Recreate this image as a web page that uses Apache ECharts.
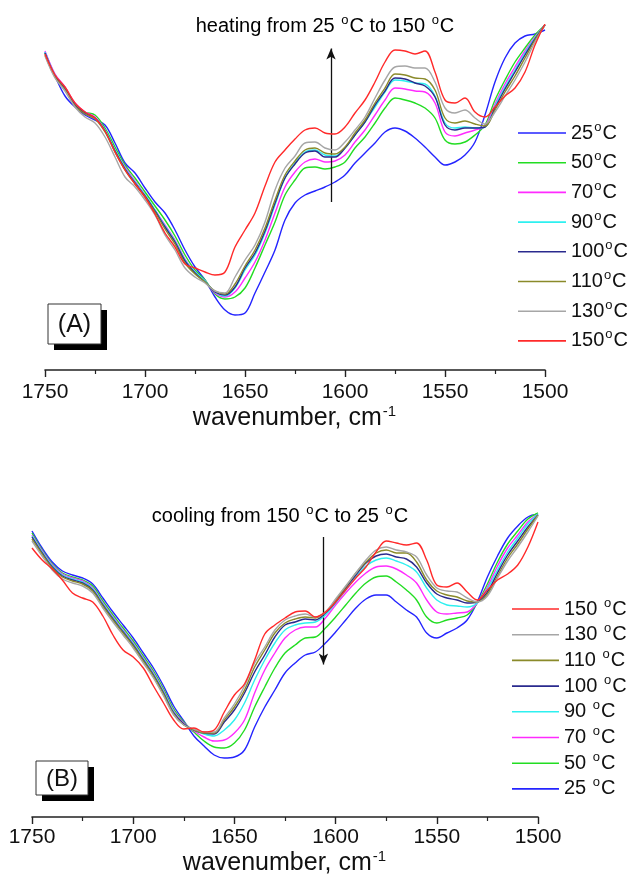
<!DOCTYPE html>
<html>
<head>
<meta charset="utf-8">
<title>FTIR amide I / II band vs temperature</title>
<script src="https://cdn.jsdelivr.net/npm/echarts@6/dist/echarts.min.js"></script>
<style>
  html, body { margin: 0; padding: 0; background: #fff; }
  #chart { width: 631px; height: 881px; }
</style>
</head>
<body>
<div id="chart"></div>
<script>
// Wavenumber grid (cm-1), shared by every spectrum
const wavenumbers = [1750, 1745, 1740, 1735, 1730, 1725, 1720, 1715, 1710, 1705,
  1700, 1695, 1690, 1685, 1680, 1675, 1670, 1665, 1660, 1655,
  1650, 1645, 1640, 1635, 1630, 1625, 1620, 1615, 1610, 1605,
  1600, 1595, 1590, 1585, 1580, 1575, 1570, 1565, 1560, 1555,
  1550, 1545, 1540, 1535, 1530, 1525, 1520, 1515, 1510, 1505, 1500];

const temperatures = [25, 50, 70, 90, 100, 110, 130, 150];
const lineColors = ['#2424ff', '#22dd22', '#ff2bff', '#2ef0f0', '#2a2a8e', '#8a8a2a', '#a6a6a6', '#ff2a2a'];
const xTicks = [1500, 1550, 1600, 1650, 1700, 1750];

// (A) heating run, absorbance in arbitrary units (x1000)
const heat25  = [318,294,274,263,255,250,245,227,207,197,182,168,157,140,120,103,90,73,60,55,57,77,98,120,150,167,175,179,183,188,195,207,217,227,238,242,239,232,223,213,205,208,215,228,255,288,312,327,334,336,340];
const heat50  = [317,295,282,266,258,255,242,223,205,192,178,164,150,134,115,100,90,76,71,73,82,102,125,148,175,190,202,203,201,203,208,222,233,247,262,272,270,267,262,252,230,226,228,235,245,270,290,308,322,335,345];
const heat70  = [319,296,283,267,258,253,240,220,203,189,175,160,145,130,111,98,89,77,73,78,92,108,130,157,183,198,208,211,208,209,215,228,240,255,270,282,281,279,278,267,238,234,237,240,244,266,286,303,319,333,345];
const heat90  = [318,295,282,266,257,252,240,220,202,188,175,160,144,129,110,98,89,78,74,82,100,115,137,165,192,207,218,220,215,214,222,235,248,263,278,290,289,287,286,274,247,242,243,242,243,264,283,300,317,332,345];
const heat100 = [317,294,281,265,257,252,239,219,201,187,174,159,143,128,109,97,88,78,75,83,102,117,139,167,192,206,217,219,213,213,222,235,248,265,279,292,291,287,284,273,245,240,242,242,243,262,281,298,315,331,345];
const heat110 = [315,293,280,264,256,251,238,218,200,186,173,158,141,126,107,96,88,79,76,86,104,120,142,170,195,209,220,222,217,216,223,237,250,267,282,296,295,292,291,280,252,247,249,246,244,260,278,294,312,330,345];
const heat130 = [314,292,279,263,253,247,233,213,193,183,170,155,135,120,102,93,87,79,77,93,110,125,148,180,202,214,227,228,222,220,228,240,253,272,290,303,304,302,302,288,262,257,260,252,246,258,274,290,308,328,345];
const heat150 = [316,295,283,267,258,252,239,218,200,186,173,156,137,123,106,102,98,95,98,123,140,157,184,208,220,231,240,242,237,236,243,257,270,288,308,320,319,316,319,298,270,267,272,258,253,263,274,282,298,325,346];

// (B) cooling run, absorbance in arbitrary units (x1000)
const cool25  = [286,269,255,246,242,239,233,219,205,192,179,164,149,131,111,96,81,71,62,59,60,67,90,110,127,144,154,162,165,174,185,197,209,218,222,222,215,207,200,184,179,184,189,197,215,240,261,279,291,300,303];
const cool50  = [284,267,253,244,240,237,231,216,202,189,176,161,146,128,108,95,85,76,70,69,74,87,110,130,149,164,172,179,180,189,200,212,224,234,240,241,235,227,217,200,194,197,199,202,214,233,255,273,286,298,304];
const cool70  = [282,266,252,243,239,236,229,214,200,187,174,159,144,126,106,94,86,80,76,77,84,97,124,147,164,179,187,190,190,199,212,224,235,244,250,251,248,242,234,217,205,203,204,205,214,230,251,269,282,295,303];
const cool90  = [281,265,251,242,238,235,228,213,199,186,173,158,143,125,105,93,87,83,81,87,97,114,137,157,174,187,192,194,195,202,214,227,240,251,257,259,256,252,245,229,217,212,211,210,214,228,247,265,279,293,303];
const cool100 = [280,264,250,241,237,234,227,212,198,185,172,157,142,124,104,93,87,84,83,95,107,124,145,162,180,192,195,198,197,204,215,229,242,254,261,263,260,258,250,234,223,219,217,214,215,225,244,262,276,290,302];
const cool110 = [278,263,249,240,236,233,226,211,197,184,171,156,141,123,103,92,87,84,84,97,110,127,150,167,184,194,198,200,199,205,217,230,244,255,264,267,264,264,255,237,226,222,220,216,215,223,241,259,273,288,302];
const cool130 = [276,261,247,238,234,231,224,209,195,182,169,154,139,121,102,92,88,85,85,99,113,131,154,170,187,197,201,203,200,205,218,231,244,257,267,270,267,265,260,242,229,226,225,219,215,221,239,256,270,285,301];
const cool150 = [269,257,248,237,224,219,215,201,182,167,160,149,131,114,97,88,89,85,87,105,122,133,157,183,192,199,205,206,200,205,215,227,239,250,265,276,274,272,274,257,232,230,234,225,217,227,237,243,252,270,295];

const heating = [heat25, heat50, heat70, heat90, heat100, heat110, heat130, heat150];
const cooling = [cool25, cool50, cool70, cool90, cool100, cool110, cool130, cool150];

const FONT = '"Liberation Sans", Arial, Helvetica, sans-serif';
const INK = '#111';

function spectrum(values) {
  return wavenumbers.map((w, j) => [w, values[j]]);
}

// superscript helper styles for rich text
function richStyles(size, supSize, supRaise, lineHeight) {
  return {
    t: { fontSize: size, fontFamily: FONT, color: INK, lineHeight: lineHeight },
    s: { fontSize: supSize, fontFamily: FONT, color: INK, lineHeight: supSize, padding: [0, 1, supRaise, 1] }
  };
}

function wavenumberAxis(gridIndex, labelMargin, nameGap) {
  return {
    type: 'value', gridIndex: gridIndex,
    min: xTicks[0], max: xTicks[xTicks.length - 1], interval: 50, inverse: true,
    axisLine: { show: true, onZero: false, lineStyle: { color: '#222', width: 1.6 } },
    axisTick: { show: true, inside: false, length: 7, lineStyle: { color: '#222', width: 1.4 } },
    minorTick: { show: true, splitNumber: 2, length: 4, lineStyle: { color: '#222', width: 1.2 } },
    splitLine: { show: false }, minorSplitLine: { show: false },
    axisLabel: { margin: labelMargin, fontSize: 21, fontFamily: FONT, color: INK,
      formatter: function (v) { return String(v); } },
    name: '{t|wavenumber, cm}{s|-1}', nameLocation: 'middle', nameGap: nameGap,
    nameTextStyle: { rich: richStyles(25, 15, 14, 29) }
  };
}

function absorbanceAxis(gridIndex) {
  return { type: 'value', gridIndex: gridIndex, min: 0, max: 350, show: false };
}

function arrowLine(x, yFrom, yTo) {
  return {
    silent: true, animation: false,
    symbol: ['none', 'arrow'], symbolSize: [7, 11],
    lineStyle: { color: INK, width: 1.3, type: 'solid' },
    label: { show: false },
    emphasis: { disabled: true },
    data: [[{ coord: [x, yFrom] }, { coord: [x, yTo] }]]
  };
}

const series = [];
temperatures.forEach((t, i) => {
  series.push({
    type: 'line', name: t + '°C', xAxisIndex: 0, yAxisIndex: 0,
    data: spectrum(heating[i]), symbol: 'none', showSymbol: false, smooth: 0.35,
    lineStyle: { color: lineColors[i], width: 1.4 }, itemStyle: { color: lineColors[i] },
    emphasis: { disabled: true }, z: 2 + i,
    markLine: i === temperatures.length - 1 ? arrowLine(1607, 168, 321.5) : undefined
  });
});
temperatures.forEach((t, i) => {
  series.push({
    type: 'line', name: t + ' °C', xAxisIndex: 1, yAxisIndex: 1,
    data: spectrum(cooling[i]), symbol: 'none', showSymbol: false, smooth: 0.35,
    lineStyle: { color: lineColors[i], width: 1.4 }, itemStyle: { color: lineColors[i] },
    emphasis: { disabled: true }, z: 2 + i,
    markLine: i === 0 ? arrowLine(1606, 280, 152.5) : undefined
  });
});

function legendBox(names, top, gap, left, width, withSpace) {
  return {
    orient: 'vertical', left: left, top: top, padding: 0,
    itemWidth: width, itemHeight: 1.6, itemGap: gap, icon: 'rect',
    selectedMode: false, data: names,
    formatter: function (name) {
      const num = name.replace(' °C', '').replace('°C', '');
      return '{t|' + num + (withSpace ? ' ' : '') + '}{s|o}{t|C}';
    },
    textStyle: { fontFamily: FONT, fontSize: 20, color: INK, rich: richStyles(20, 13, 12, 25) }
  };
}

function panelTag(label, x, y, w, h, size) {
  return {
    type: 'group', silent: true,
    children: [
      { type: 'rect', shape: { x: x + 6, y: y + 6, width: w, height: h }, style: { fill: '#000' } },
      { type: 'rect', shape: { x: x, y: y, width: w, height: h }, style: { fill: '#fff', stroke: '#333', lineWidth: 1 } },
      { type: 'text', style: { text: label, x: x + w / 2, y: y + h / 2 + 1, align: 'center', verticalAlign: 'middle',
          font: size + 'px ' + FONT, fill: INK } }
    ]
  };
}

function note(text, x, y) {
  return {
    type: 'text', silent: true,
    style: { text: text, x: x, y: y, align: 'center', verticalAlign: 'middle',
      rich: richStyles(20, 13, 12, 25) }
  };
}

const option = {
  animation: false,
  backgroundColor: '#fff',
  grid: [
    { left: 45, top: 20, width: 500, height: 350 },
    { left: 32, top: 467, width: 506, height: 350 }
  ],
  xAxis: [wavenumberAxis(0, 12, 30), wavenumberAxis(1, 10, 32)],
  yAxis: [absorbanceAxis(0), absorbanceAxis(1)],
  legend: [
    legendBox(temperatures.map(t => t + '°C'), 120.5, 4.7, 518, 48, false),
    legendBox(temperatures.slice().reverse().map(t => t + ' °C'), 596.5, 0.7, 512, 47, true)
  ],
  graphic: [
    note('{t|heating from 25 }{s|o}{t|C to 150 }{s|o}{t|C}', 325, 26),
    note('{t|cooling from 150 }{s|o}{t|C to 25 }{s|o}{t|C}', 280, 516),
    panelTag('(A)', 48, 304, 53, 40, 25),
    panelTag('(B)', 36, 761, 52, 34, 24)
  ],
  series: series
};

const chart = echarts.init(document.getElementById('chart'), null, { renderer: 'canvas' });
chart.setOption(option);
</script>
</body>
</html>
